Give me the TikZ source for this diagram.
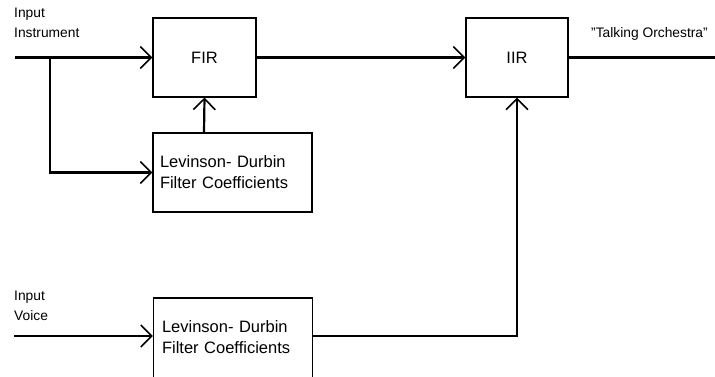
\documentclass[tikz,border=0pt]{standalone}
\usepackage{fontspec}
\setmainfont{Liberation Sans}
\usetikzlibrary{arrows.meta,positioning}
\begin{document}
\begin{tikzpicture}[x=1pt,y=-1pt,
  block/.style={draw,line width=1.1pt,inner sep=0pt,font=\fontsize{16.5}{21}\selectfont},
  ldbox/.style={block,minimum width=159pt,minimum height=79pt,align=left,
    text width=145pt},
  sig/.style={line width=2.2pt},
  flow/.style={sig,-{Straight Barb[length=11pt,width=22pt,line width=1.6pt]}},
  lbl/.style={font=\fontsize{13.8}{19.5}\selectfont,align=left,inner sep=0pt}]
\useasboundingbox (0,0) rectangle (715,376);
% processing blocks
\node[block,minimum width=103pt,minimum height=79pt] (fir) at (204.5,57.5) {FIR};
\node[block,minimum width=102pt,minimum height=79pt] (iir) at (517,57.5) {IIR};
\node[ldbox] (ld1) at (232.5,172.5) {Levinson- Durbin\\Filter Coefficients};
\node[ldbox,minimum height=86pt,text depth=0pt] (ld2) at (233,341) {};
\node[block,draw=none,align=left,text width=145pt,anchor=west] (ld2txt) at (240.5-79.5+0.5,337.5) {Levinson- Durbin\\Filter Coefficients};
% signal ends and junctions
\coordinate (inI) at (15,57.5);
\coordinate (split) at (50,57.5);
\coordinate (inV) at (14,336);
\coordinate (outO) at (715,57.5);
\coordinate (turn) at (517,336);
% labels
\node[lbl,anchor=north west] (linst) at (14,8) {Input\\Instrument};
\node[lbl,anchor=north west] (lvoice) at (14,291) {Input\\Voice};
\node[lbl,anchor=north west] (lout) at (591,27) {\symbol{34}Talking Orchestra\symbol{34}};
% connections
\draw[flow] (inI) -- (fir.west);
\draw[flow] (split) |- (ld1.west);
\draw[flow] (ld1.north -| 204,0) -- (fir.south);
\draw[flow] (fir.east) -- (iir.west);
\draw[sig] (iir.east) -- (outO);
\draw[flow] (inV) -- (ld2.west |- inV);
\draw[flow] (ld2.east |- turn) -- (turn) -- (iir.south);
\end{tikzpicture}
\end{document}
